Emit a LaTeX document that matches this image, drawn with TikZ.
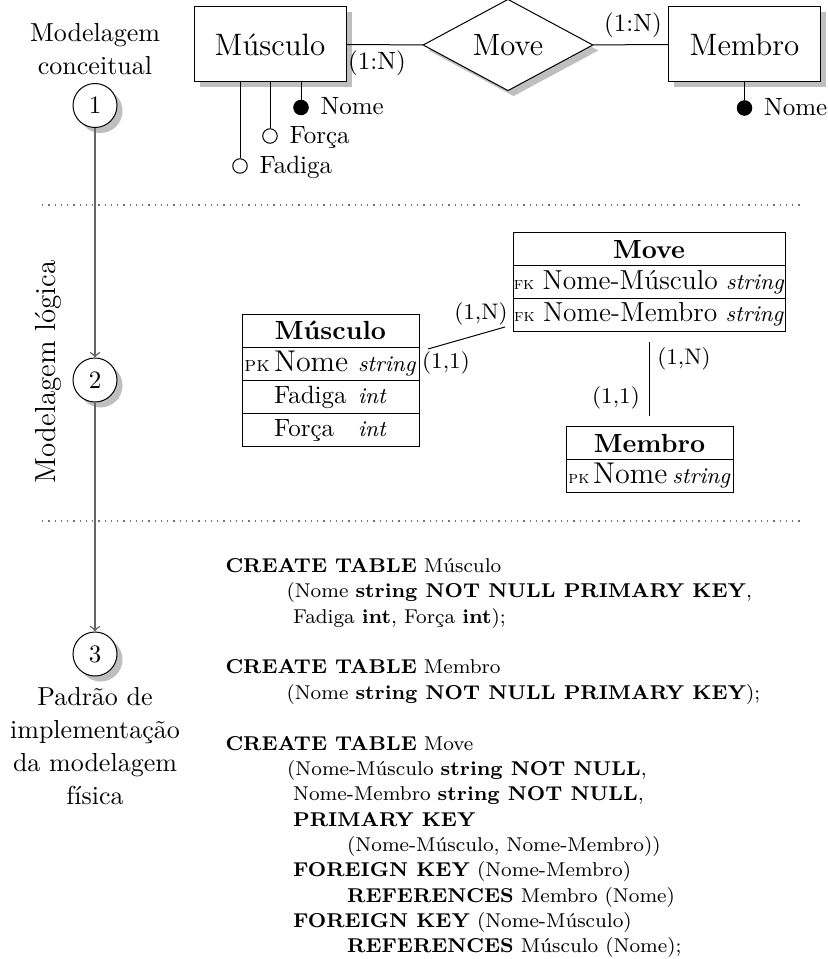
\documentclass[tikz,border=0pt]{standalone}
\usepackage{fontspec}
\usetikzlibrary{shapes.geometric,shadows}

\newcommand\fsz[2]{\fontsize{#1}{#2}\selectfont}
\newcommand\keytag[2][7]{{\fontsize{#1}{8}\selectfont\textsc{#2}}}
\newcommand\typetag[1]{{\fontsize{9}{10}\selectfont\textit{#1}}}

\begin{document}
\begin{tikzpicture}[x=0.4pt,y=-0.4pt,
  shade/.style={drop shadow={shadow xshift=2.2pt,shadow yshift=-2.2pt,fill=black!25,opacity=1}},
  stage/.style={circle,draw,fill=white,minimum size=17.6pt,inner sep=0pt,font=\fsz{10}{12},shade},
  entity/.style={rectangle,draw,fill=white,minimum width=60.8pt,minimum height=30pt,inner sep=0pt,font=\fsz{12.4}{14},shade},
  relation/.style={diamond,draw,fill=white,minimum width=68pt,minimum height=33.6pt,inner sep=0pt,font=\fsz{12.3}{14},shade},
  keyattr/.style={circle,draw,fill=black,minimum size=5.8pt,inner sep=0pt},
  attr/.style={circle,draw,fill=white,minimum size=5.8pt,inner sep=0pt},
  attrlabel/.style={font=\fsz{10}{12},inner sep=0pt,anchor=west,text height=8pt,text depth=2pt},
  card/.style={font=\fsz{10}{12},inner sep=0pt},
  tcard/.style={font=\fsz{9}{11},inner sep=0pt},
  phase/.style={font=\fsz{10.4}{13.1},align=center,inner sep=0pt},
  flow/.style={draw=black!60,line width=0.6pt,->},
  sep/.style={draw=black!55,dotted,line width=0.5pt},
  trow/.style={draw,inner sep=0pt,minimum height=13.2pt,font=\fsz{10}{12}},
  thead/.style={trow,font=\bfseries\fsz{10.5}{12}},
  sql/.style={anchor=base west,inner sep=0pt,font=\fsz{8}{10}}
]
\useasboundingbox (0,0) rectangle (827,959);

% section separators
\coordinate (d1a) at (42,205);
\coordinate (d1b) at (800,205);
\coordinate (d2a) at (42,521);
\coordinate (d2b) at (800,521);
\draw[sep] (d1a) -- (d1b);
\draw[sep] (d2a) -- (d2b);

% modelling stages
\node[phase] (p1) at (95,49) {Modelagem\\conceitual};
\node[stage] (s1) at (95,105.5) {1};
\node[stage] (s2) at (95,380) {2};
\node[stage] (s3) at (95,654) {3};
\node[phase,font=\fsz{11.6}{14},rotate=90] (p2) at (48,372) {Modelagem lógica};
\node[phase] (p3) at (95,746) {Padrão de\\implementação\\da modelagem\\física};
\draw[flow] (s1) -- (s2);
\draw[flow] (s2) -- (s3);

% conceptual model
\node[entity] (mus) at (270,44.5) {Músculo};
\node[relation] (mov) at (508,45) {Move};
\node[entity] (mem) at (744.5,44.5) {Membro};
\draw (mus) -- (mov);
\draw (mov) -- (mem);
\node[card] (c1) at (377,63) {(1:N)};
\node[card] (c2) at (633,25) {(1:N)};

\node[keyattr] (a1) at (301,107.5) {};
\node[attr] (a2) at (270,136) {};
\node[attr] (a3) at (240,166) {};
\draw (mus.south -| a1) -- (a1);
\draw (mus.south -| a2) -- (a2);
\draw (mus.south -| a3) -- (a3);
\node[attrlabel] (a1t) at ([xshift=4.5pt]a1.east) {Nome};
\node[attrlabel] (a2t) at ([xshift=4.5pt]a2.east) {Força};
\node[attrlabel] (a3t) at ([xshift=4.5pt]a3.east) {Fadiga};

\node[keyattr] (b1) at (744.5,108) {};
\draw (mem.south -| b1) -- (b1);
\node[attrlabel] (b1t) at ([xshift=4.5pt]b1.east) {Nome};

% logical model: Músculo
\node[thead,minimum width=70.8pt] (tm0) at (330.5,330.6) {Músculo};
\node[trow,minimum width=70.8pt] (tm1) at (330.5,363.9)
  {\makebox[12.8pt][r]{\keytag[8.5]{pk}\,}\makebox[33.6pt][l]{\fsz{12}{14}Nome}\makebox[24.4pt][l]{\typetag{string}}};
\node[trow,minimum width=70.8pt] (tm2) at (330.5,397.1)
  {\makebox[12.8pt]{}\makebox[33.6pt][l]{Fadiga}\makebox[24.4pt][l]{\typetag{int}}};
\node[trow,minimum width=70.8pt] (tm3) at (330.5,430.4)
  {\makebox[12.8pt]{}\makebox[33.6pt][l]{Força}\makebox[24.4pt][l]{\typetag{int}}};

% logical model: Move
\node[thead,minimum width=108.8pt] (tv0) at (649,249.3) {Move};
\node[trow,minimum width=108.8pt] (tv1) at (649,282)
  {\keytag{fk} {\fsz{11}{13}Nome-Músculo} \typetag{string}};
\node[trow,minimum width=108.8pt] (tv2) at (649,314.7)
  {\keytag{fk} {\fsz{11}{13}Nome-Membro} \typetag{string}};

% logical model: Membro
\node[thead,minimum width=66.8pt] (te0) at (649.5,443.25) {Membro};
\node[trow,minimum width=66.8pt] (te1) at (649.5,475.75)
  {\keytag{pk}\hspace{1.5pt}{\fsz{12}{14}Nome}\hspace{2pt}\typetag{string}};

% logical relationships
\coordinate (r1a) at (428,349);
\coordinate (r1b) at (505,327);
\draw (r1a) -- (r1b);
\coordinate (r2a) at (649,342);
\coordinate (r2b) at (649,416);
\draw (r2a) -- (r2b);
\node[tcard] (k1) at (481,314) {(1,N)};
\node[tcard] (k2) at (446,363) {(1,1)};
\node[tcard] (k3) at (684,359) {(1,N)};
\node[tcard] (k4) at (616,398) {(1,1)};

% physical model
\node[sql] (q1) at (225,572) {\textbf{CREATE TABLE} Músculo};
\node[sql] (q2) at (286,597.5) {(Nome \textbf{string NOT NULL PRIMARY KEY},};
\node[sql] (q3) at (292.7,623) {Fadiga \textbf{int}, Força \textbf{int});};
\node[sql] (q4) at (225,673.5) {\textbf{CREATE TABLE} Membro};
\node[sql] (q5) at (286,699) {(Nome \textbf{string NOT NULL PRIMARY KEY});};
\node[sql] (q6) at (225,750) {\textbf{CREATE TABLE} Move};
\node[sql] (q7) at (286.7,775) {(Nome-Músculo \textbf{string NOT NULL},};
\node[sql] (q8) at (292.7,800.5) {Nome-Membro \textbf{string NOT NULL},};
\node[sql] (q9) at (292.7,826) {\textbf{PRIMARY KEY}};
\node[sql] (q10) at (346.7,851) {(Nome-Músculo, Nome-Membro))};
\node[sql] (q11) at (292.7,876.5) {\textbf{FOREIGN KEY} (Nome-Membro)};
\node[sql] (q12) at (346.7,902) {\textbf{REFERENCES} Membro (Nome)};
\node[sql] (q13) at (292.7,927) {\textbf{FOREIGN KEY} (Nome-Músculo)};
\node[sql] (q14) at (346.7,952.5) {\textbf{REFERENCES} Músculo (Nome);};
\end{tikzpicture}
\end{document}
